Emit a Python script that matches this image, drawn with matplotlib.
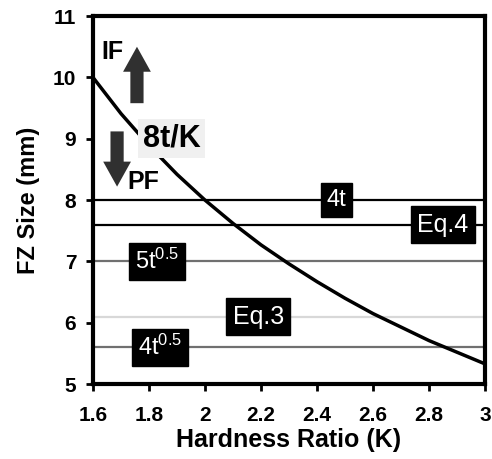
import matplotlib.pyplot as plt

plt.rcParams['font.family'] = ['Liberation Sans', 'DejaVu Sans']
plt.rcParams['mathtext.fontset'] = 'custom'
plt.rcParams['mathtext.rm'] = 'Liberation Sans'
plt.rcParams['mathtext.default'] = 'regular'

# curve 8t/K
k_vals = [1.6, 1.7, 1.8, 1.9, 2.0, 2.1, 2.2, 2.3, 2.4, 2.5, 2.6, 2.7, 2.8, 2.9, 3.0]
fz_vals = [10.0, 9.41, 8.89, 8.42, 8.0, 7.62, 7.27, 6.96, 6.67, 6.4, 6.15, 5.93, 5.71, 5.52, 5.33]

# horizontal criteria lines
line_names = ['4t', 'Eq.4', '5t$^{0.5}$', 'Eq.3', '4t$^{0.5}$']
line_levels = [8.0, 7.6, 7.0, 6.1, 5.6]
line_colors = ['black', 'black', '#707070', '#d8d8d8', '#707070']
label_x = [2.47, 2.85, 1.83, 2.19, 1.84]
label_size = [17, 18, 17, 18, 17]

fig = plt.figure(figsize=(4.92, 4.59), dpi=100)
ax = fig.add_axes([0.189, 0.163, 0.797, 0.802])

for name, lev, col, lx, fs in zip(line_names, line_levels, line_colors, label_x, label_size):
    ax.axhline(lev, color=col, lw=1.6, zorder=1)
    ax.text(lx, lev, name, color='white', fontsize=fs,
            ha='center', va='center', zorder=4,
            bbox=dict(boxstyle='square,pad=0.25', fc='black', ec='black'))

ax.plot(k_vals, fz_vals, color='black', lw=2.5, zorder=2)

ax.text(1.88, 9.0, '8t/K', fontsize=22, fontweight='bold', ha='center', va='center', zorder=4,
        bbox=dict(boxstyle='square,pad=0.15', fc='#f0f0f0', ec='none'))

ax.annotate('', xy=(1.757, 10.5), xytext=(1.757, 9.58),
            arrowprops=dict(fc='#303030', ec='none', width=9.5, headwidth=20, headlength=18))
ax.annotate('', xy=(1.686, 8.22), xytext=(1.686, 9.12),
            arrowprops=dict(fc='#303030', ec='none', width=9.5, headwidth=20, headlength=18))
ax.text(1.67, 10.42, 'IF', fontsize=18, fontweight='bold', ha='center', va='center')
ax.text(1.78, 8.3, 'PF', fontsize=18, fontweight='bold', ha='center', va='center')

ax.set_xlim(1.6, 3.0)
ax.set_ylim(5, 11)
ax.set_xticks([1.6, 1.8, 2.0, 2.2, 2.4, 2.6, 2.8, 3.0])
ax.set_xticklabels(['1.6', '1.8', '2', '2.2', '2.4', '2.6', '2.8', '3'], fontweight='bold')
ax.set_yticks([5, 6, 7, 8, 9, 10, 11])
ax.set_yticklabels(['5', '6', '7', '8', '9', '10', '11'], fontweight='bold')
ax.tick_params(labelsize=15, width=2, length=5, direction='out')
ax.tick_params(axis='x', pad=11)
ax.tick_params(axis='y', pad=7)
for s in ax.spines.values():
    s.set_linewidth(3)
ax.set_xlabel('Hardness Ratio (K)', fontsize=18, fontweight='bold', labelpad=2)
ax.set_ylabel('FZ Size (mm)', fontsize=17, fontweight='bold', labelpad=9)

plt.savefig('out.png', dpi=100)
